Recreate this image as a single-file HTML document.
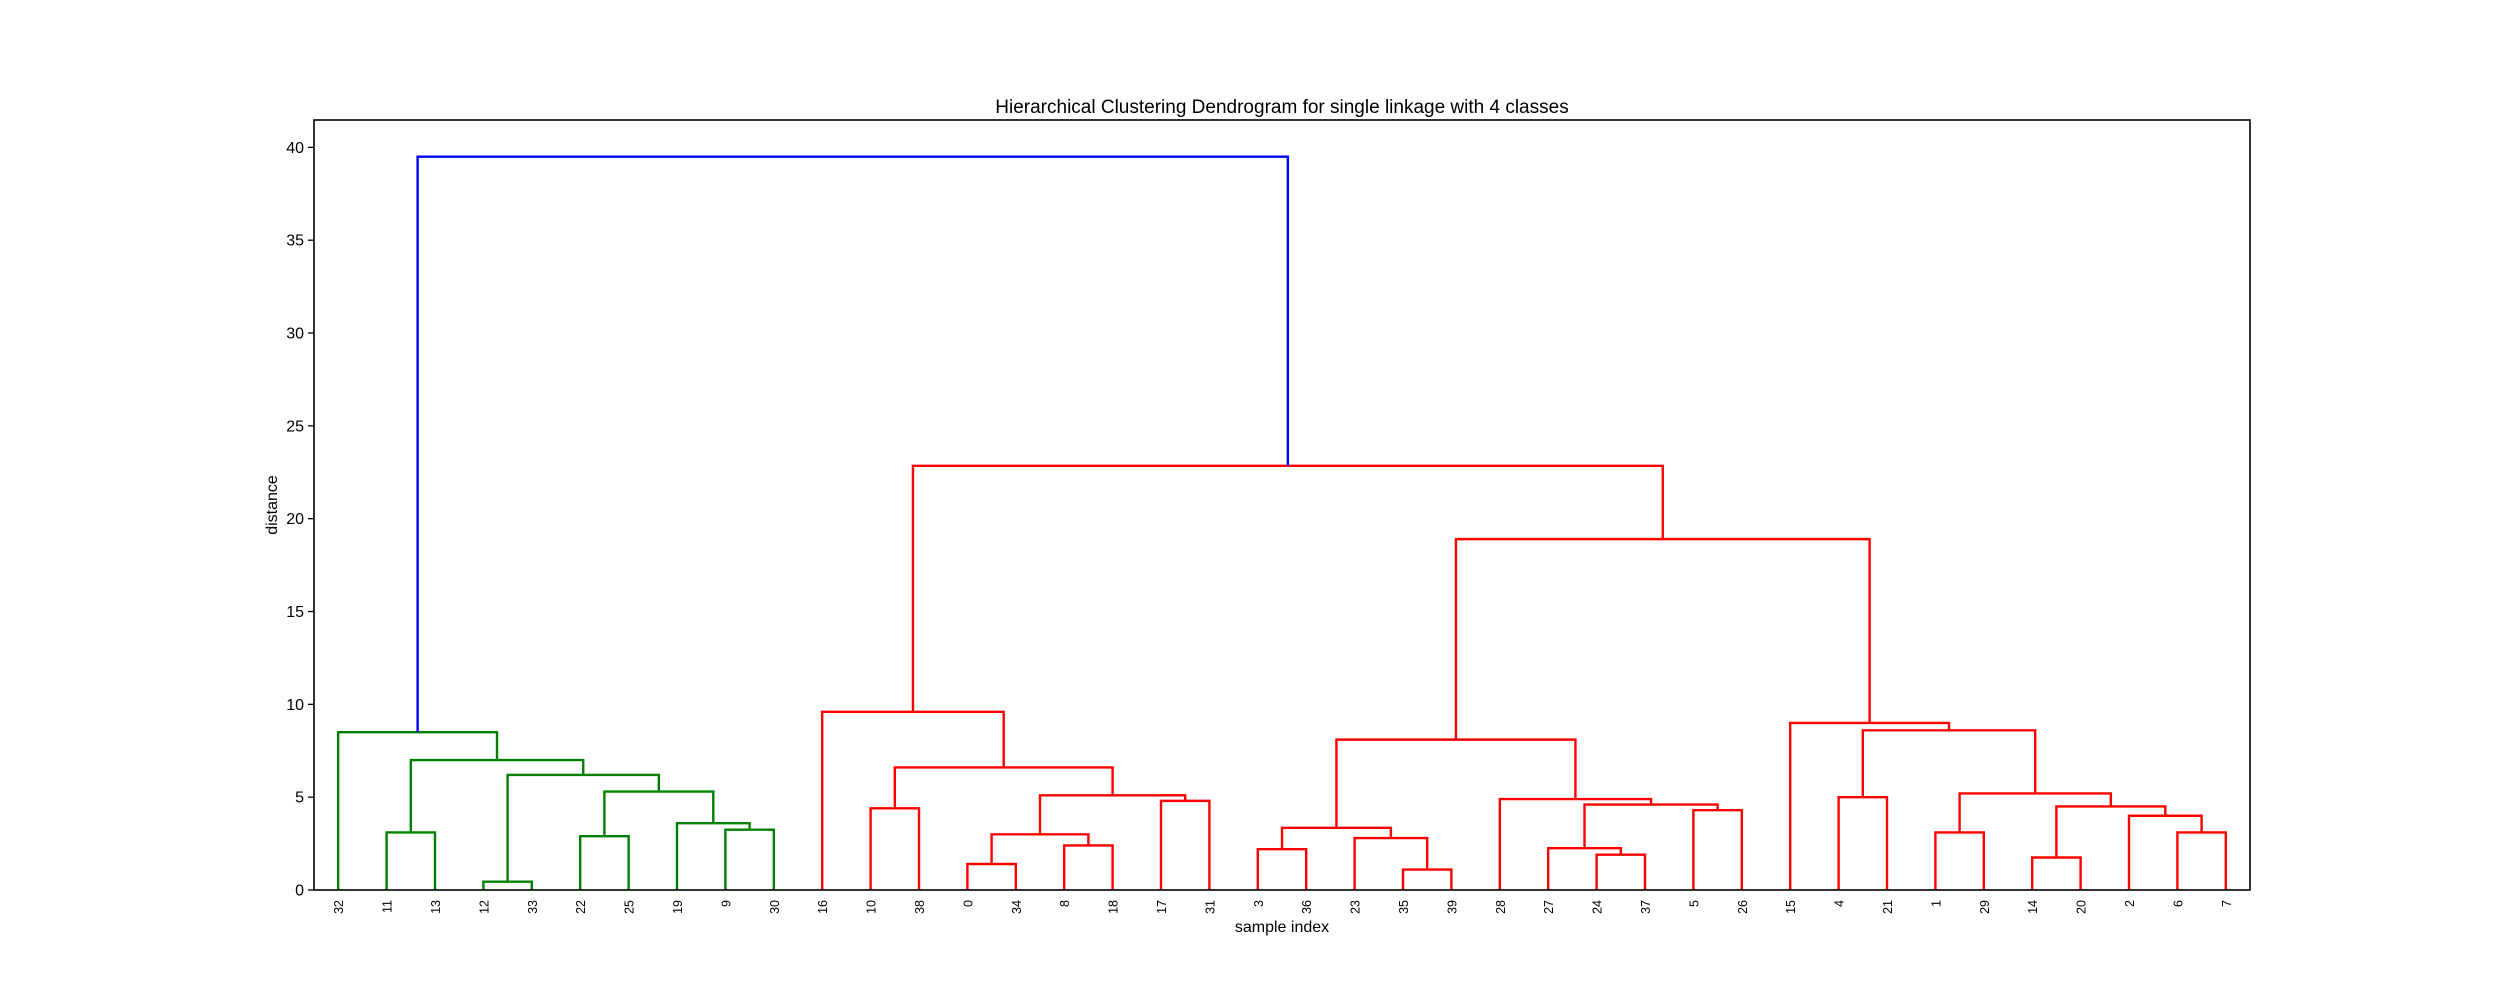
<!DOCTYPE html>
<html><head><meta charset="utf-8"><style>
body{margin:0;background:#fff}
svg{display:block;font-family:"Liberation Sans","DejaVu Sans",sans-serif}
</style></head><body>
<svg id="c" width="2500" height="1000">
<rect width="2500" height="1000" fill="#fff"/>
<text x="1282" y="113" text-anchor="middle" font-size="19">Hierarchical Clustering Dendrogram for single linkage with 4 classes</text>
<text x="1282" y="932" text-anchor="middle" font-size="16">sample index</text>
<text transform="translate(277,505) rotate(-90)" text-anchor="middle" font-size="16">distance</text>
<g id="marks"></g>
<rect x="314" y="120" width="1936" height="770" fill="none" stroke="#000" stroke-width="1.6"/>
</svg>
<script>
// Linkage tree: [left, right, height]; leaves are sample labels
const greenCluster = [32, [[11,13,3.1], [[12,33,0.45], [[22,25,2.9], [19,[9,30,3.25],3.6], 5.3], 6.2], 7.0], 8.5];
const redA = [16, [[10,38,4.4], [[[0,34,1.4],[8,18,2.4],3.0], [17,31,4.8], 5.1], 6.6], 9.6];
const redB = [[[3,36,2.2],[23,[35,39,1.1],2.8],3.35], [28,[[27,[24,37,1.9],2.25],[5,26,4.3],4.6],4.9], 8.1];
const redC = [15, [[4,21,5.0], [[1,29,3.1], [[14,20,1.75], [2,[6,7,3.1],4.0], 4.5], 5.2], 8.6], 9.0];
const redRoot = [redA, [redB, redC, 18.9], 22.85];
const rootHeight = 39.5;
const yTicks = [0,5,10,15,20,25,30,35,40];

const L=314,R=2250,T=120,B=890, yMax=rootHeight*1.05;
const nLeaves=40;
const xs = v => L + v/(nLeaves*10)*(R-L);
const ys = v => B - v/yMax*(B-T);
const NS="http://www.w3.org/2000/svg";
const g=document.getElementById('marks');
let leafIdx=0;
function line(pts,color,name){
  const p=document.createElementNS(NS,'polyline');
  p.setAttribute('points',pts.map(q=>q.join(',')).join(' '));
  p.setAttribute('fill','none');p.setAttribute('stroke',color);p.setAttribute('stroke-width','2.4');
  
  
  g.appendChild(p);
}
function leafLabel(lbl,x){
  const t=document.createElementNS(NS,'text');
  t.setAttribute('transform',`translate(${x+5},${B+10}) rotate(-90)`);
  t.setAttribute('text-anchor','end');t.setAttribute('font-size','12.5');
  t.textContent=lbl;
  
  
  g.appendChild(t);
}
function draw(node,color){
  if(!Array.isArray(node)){
    const x=5+10*leafIdx++;
    leafLabel(node,xs(x));
    return {x:x,h:0};
  }
  const a=draw(node[0],color), b=draw(node[1],color), h=node[2];
  line([[xs(a.x),ys(a.h)],[xs(a.x),ys(h)],[xs(b.x),ys(h)],[xs(b.x),ys(b.h)]],color,'cluster-link');
  return {x:(a.x+b.x)/2,h:h};
}
const ga=draw(greenCluster,'#008000');
const rb=draw(redRoot,'#ff0000');
line([[xs(ga.x),ys(ga.h)],[xs(ga.x),ys(rootHeight)],[xs(rb.x),ys(rootHeight)],[xs(rb.x),ys(rb.h)]],'#0000ff','root-link');
yTicks.forEach(v=>{
  const y=ys(v);
  const l=document.createElementNS(NS,'line');
  l.setAttribute('x1',L-6);l.setAttribute('x2',L);l.setAttribute('y1',y);l.setAttribute('y2',y);
  l.setAttribute('stroke','#000');l.setAttribute('stroke-width','1.3');
  
  
  g.appendChild(l);
  const t=document.createElementNS(NS,'text');
  t.setAttribute('x',L-10);t.setAttribute('y',y+5.5);t.setAttribute('text-anchor','end');t.setAttribute('font-size','16');
  t.textContent=v;
  
  
  g.appendChild(t);
});
</script>
</body></html>
